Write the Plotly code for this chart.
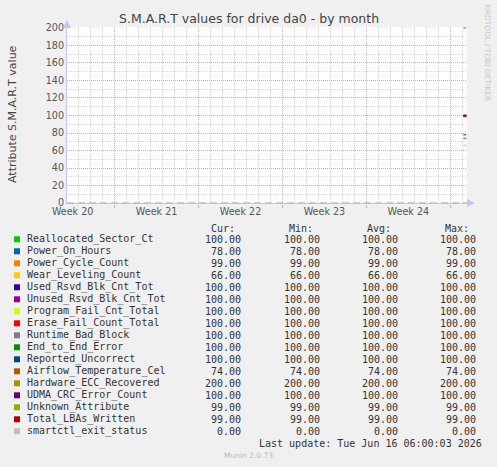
import plotly.graph_objects as go

# ---------------- data ----------------
series_names = [
    "Reallocated_Sector_Ct", "Power_On_Hours", "Power_Cycle_Count", "Wear_Leveling_Count",
    "Used_Rsvd_Blk_Cnt_Tot", "Unused_Rsvd_Blk_Cnt_Tot", "Program_Fail_Cnt_Total",
    "Erase_Fail_Count_Total", "Runtime_Bad_Block", "End_to_End_Error", "Reported_Uncorrect",
    "Airflow_Temperature_Cel", "Hardware_ECC_Recovered", "UDMA_CRC_Error_Count",
    "Unknown_Attribute", "Total_LBAs_Written", "smartctl_exit_status",
]
series_colors = [
    "#00CC00", "#0066B3", "#FF8000", "#FFCC00", "#330099", "#990099", "#CCFF00",
    "#FF0000", "#808080", "#008F00", "#00487D", "#B35A00", "#B38F00", "#6B006B",
    "#8FB300", "#B30000", "#BEBEBE",
]
cur_values = [100, 78, 99, 66, 100, 100, 100, 100, 100, 100, 100, 74, 200, 100, 99, 99, 0]
min_values = [100, 78, 99, 66, 100, 100, 100, 100, 100, 100, 100, 74, 200, 100, 99, 99, 0]
avg_values = [100, 78, 99, 66, 100, 100, 100, 100, 100, 100, 100, 74, 200, 100, 99, 99, 0]
max_values = [100, 78, 99, 66, 100, 100, 100, 100, 100, 100, 100, 74, 200, 100, 99, 99, 0]

# samples present on the graph (only the last few hours)
recent_times = ["2026-06-16 02:00", "2026-06-16 08:00"]
# exit status series spans the whole month
exit_status_times = ["2026-05-14 00:40", "2026-06-16 09:20"]
exit_status_values = [0, 0]

x_range = ["2026-05-14 00:40", "2026-06-16 09:20"]
week_starts = ["2026-05-11", "2026-05-18", "2026-05-25", "2026-06-01", "2026-06-08", "2026-06-15"]
week_label_pos = ["2026-05-14 12:00", "2026-05-21 12:00", "2026-05-28 12:00",
                  "2026-06-04 12:00", "2026-06-11 12:00"]
week_labels = ["Week 20", "Week 21", "Week 22", "Week 23", "Week 24"]
y_range = [-1, 201]

header_labels = ["Cur:", "Min:", "Avg:", "Max:"]
title_text = "S.M.A.R.T values for drive da0 - by month"
y_title = "Attribute S.M.A.R.T value"
last_update = "Last update: Tue Jun 16 06:00:03 2026"
munin_version = "Munin 2.0.73"
rrd_credit = "RRDTOOL / TOBI OETIKER"

# ---------------- layout helpers ----------------
W, H = 497, 467
L, R, T, B = 67, 30, 27, 263
PW, PH = W - L - R, H - T - B


def fx(px):
    return (px - L) / PW


def fy(py):
    return (H - B - py) / PH


AXIS = "#c4c4f4"
MAJOR = "#eea0a0"
MINOR = "#d8d8d8"
TXT = "#333333"

fig = go.Figure()

for i, name in enumerate(series_names):
    if name == "smartctl_exit_status":
        fig.add_trace(go.Scatter(
            x=exit_status_times, y=exit_status_values, mode="lines",
            line=dict(color=series_colors[i], width=1.5, dash="7px,4px"),
            showlegend=False, hoverinfo="skip", cliponaxis=False))
    else:
        fig.add_trace(go.Scatter(
            x=recent_times, y=[cur_values[i]] * len(recent_times), mode="lines",
            line=dict(color=series_colors[i], width=1.2),
            showlegend=False, hoverinfo="skip"))

# invisible trace to carry the label axis
fig.add_trace(go.Scatter(x=[x_range[0]], y=[None], xaxis="x2", mode="lines",
                         showlegend=False, hoverinfo="skip"))

annotations = []
shapes = []

# title
annotations.append(dict(text=title_text, xref="paper", yref="paper", x=fx(248.5), y=fy(19),
                        xanchor="center", yanchor="middle", showarrow=False,
                        font=dict(family="DejaVu Sans", size=12.5, color="#444444")))
# y title
annotations.append(dict(text=y_title, xref="paper", yref="paper", x=fx(12), y=fy(114),
                        xanchor="center", yanchor="middle", showarrow=False, textangle=-90,
                        font=dict(family="DejaVu Sans", size=11, color="#444444")))
# rrdtool credit
annotations.append(dict(text=rrd_credit, xref="paper", yref="paper", x=fx(487.5), y=fy(53),
                        xanchor="center", yanchor="middle", showarrow=False, textangle=90,
                        font=dict(family="DejaVu Sans", size=7.5, color="#c8c8c8")))
# axis arrows
annotations.append(dict(text="", xref="paper", yref="paper", x=fx(67), y=fy(20),
                        ax=0, ay=8, showarrow=True, arrowhead=2, arrowsize=1.6,
                        arrowwidth=1, arrowcolor=AXIS))
annotations.append(dict(text="", xref="paper", yref="paper", x=fx(475), y=fy(203),
                        ax=-9, ay=0, showarrow=True, arrowhead=2, arrowsize=1.6,
                        arrowwidth=1, arrowcolor=AXIS))

mono = dict(family="DejaVu Sans Mono", size=10, color=TXT)
col_right = [241.7, 320.7, 398.7, 476.7]
head_right = [235.5, 313.5, 392, 470]

for j, h in enumerate(header_labels):
    annotations.append(dict(text=h, xref="paper", yref="paper", x=fx(head_right[j] + 1),
                            y=fy(228.3), xanchor="right", yanchor="middle", showarrow=False,
                            font=mono))

for i, name in enumerate(series_names):
    yc = 239.3 + 12 * i
    shapes.append(dict(type="rect", xref="paper", yref="paper",
                       x0=fx(14), x1=fx(20), y0=fy(yc - 3), y1=fy(yc + 3),
                       fillcolor=series_colors[i], line=dict(width=0)))
    annotations.append(dict(text=name, xref="paper", yref="paper", x=fx(25), y=fy(yc),
                            xanchor="left", yanchor="middle", showarrow=False, font=mono))
    for j, vals in enumerate([cur_values, min_values, avg_values, max_values]):
        annotations.append(dict(text=f"{vals[i]:.2f}", xref="paper", yref="paper",
                                x=fx(col_right[j] + 1), y=fy(yc), xanchor="right",
                                yanchor="middle", showarrow=False, font=mono))

annotations.append(dict(text=last_update, xref="paper", yref="paper", x=fx(483.5), y=fy(443.7),
                        xanchor="right", yanchor="middle", showarrow=False, font=mono))
annotations.append(dict(text=munin_version, xref="paper", yref="paper", x=fx(248), y=fy(456),
                        xanchor="center", yanchor="middle", showarrow=False,
                        font=dict(family="DejaVu Sans", size=7.5, color="#bbbbbb")))

fig.update_layout(
    width=W, height=H,
    margin=dict(l=L, r=R, t=T, b=B, pad=0),
    paper_bgcolor="#f0f0f0", plot_bgcolor="#ffffff",
    showlegend=False,
    annotations=annotations, shapes=shapes,
    xaxis=dict(
        type="date", range=x_range, tickmode="array", tickvals=week_starts,
        showticklabels=False, ticks="outside", ticklen=3, tickcolor=MAJOR, tickwidth=1,
        showgrid=True, gridcolor=MAJOR, griddash="1px,1px", gridwidth=1,
        minor=dict(dtick=86400000, tick0="2026-05-18", showgrid=True,
                   gridcolor=MINOR, griddash="1px,1px", gridwidth=1),
        showline=False, zeroline=False, layer="below traces", fixedrange=True,
    ),
    xaxis2=dict(
        type="date", range=x_range, overlaying="x", anchor="y", side="bottom",
        tickmode="array", tickvals=week_label_pos, ticktext=week_labels,
        showgrid=False, zeroline=False, showline=False, ticks="",
        tickfont=dict(family="DejaVu Sans", size=9.6, color="#555555"),
        fixedrange=True,
    ),
    yaxis=dict(
        range=y_range, tickmode="linear", tick0=0, dtick=20,
        tickfont=dict(family="DejaVu Sans", size=9.6, color="#555555"),
        showgrid=True, gridcolor=MAJOR, griddash="1px,1px", gridwidth=1,
        minor=dict(dtick=10, tick0=0, showgrid=True, gridcolor=MINOR,
                   griddash="1px,1px", gridwidth=1),
        showline=True, linecolor=AXIS, linewidth=1,
        zeroline=True, zerolinecolor=AXIS, zerolinewidth=1,
        ticks="", layer="below traces", fixedrange=True,
    ),
)

fig.write_html(
    "out.html",
    config={"displayModeBar": False, "staticPlot": True},
    post_script="document.body.style.margin='0';document.body.style.padding='0';"
                "document.documentElement.style.overflow='hidden';",
)
